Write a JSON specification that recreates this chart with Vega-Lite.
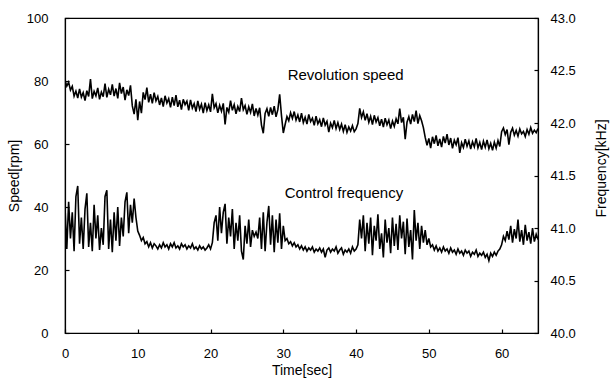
{
"$schema": "https://vega.github.io/schema/vega-lite/v6.json",
"width": 473, "height": 315,
"autosize": {"type": "none"},
"padding": {"left": 65, "top": 18, "right": 75, "bottom": 49},
"background": "white",
"config": {
  "font": "Liberation Sans",
  "view": {"stroke": "black", "strokeWidth": 1.2},
  "axis": {"grid": false, "domainColor": "black", "domainWidth": 1.2, "tickColor": "black", "tickSize": -4, "tickWidth": 1.2,
           "labelFont": "Liberation Sans", "labelFontSize": 13, "labelColor": "black", "labelFlush": false,
           "titleFont": "Liberation Sans", "titleFontSize": 14, "titleFontWeight": "normal", "titleColor": "black"}
},
"data": {"values": [
{"t":0,"speed":80.2,"freq":41.20},{"t":0.25,"speed":78.4,"freq":40.80},{"t":0.5,"speed":79.6,"freq":41.25},{"t":0.75,"speed":77.1,"freq":40.90},
{"t":1,"speed":78.3,"freq":41.15},{"t":1.25,"speed":75.2,"freq":40.78},{"t":1.5,"speed":76.8,"freq":41.30},{"t":1.75,"speed":74.6,"freq":41.40},
{"t":2,"speed":77.5,"freq":40.85},{"t":2.25,"speed":74.9,"freq":41.10},{"t":2.5,"speed":76.3,"freq":40.80},{"t":2.75,"speed":73.8,"freq":41.18},
{"t":3,"speed":76.9,"freq":41.33},{"t":3.25,"speed":75.1,"freq":40.82},{"t":3.5,"speed":80.6,"freq":41.05},{"t":3.75,"speed":74.4,"freq":40.78},
{"t":4,"speed":76.7,"freq":41.22},{"t":4.25,"speed":75.3,"freq":40.90},{"t":4.5,"speed":77.8,"freq":41.12},{"t":4.75,"speed":74.2,"freq":40.79},
{"t":5,"speed":76.5,"freq":41.00},{"t":5.25,"speed":75.0,"freq":40.84},{"t":5.5,"speed":79.2,"freq":41.30},{"t":5.75,"speed":74.8,"freq":41.36},
{"t":6,"speed":77.4,"freq":40.80},{"t":6.25,"speed":75.6,"freq":41.08},{"t":6.5,"speed":78.9,"freq":40.77},{"t":6.75,"speed":75.2,"freq":41.15},
{"t":7,"speed":77.6,"freq":40.88},{"t":7.25,"speed":74.5,"freq":41.20},{"t":7.5,"speed":79.4,"freq":40.83},{"t":7.75,"speed":76.0,"freq":41.10},
{"t":8,"speed":78.1,"freq":40.92},{"t":8.25,"speed":73.9,"freq":41.25},{"t":8.5,"speed":77.2,"freq":41.34},{"t":8.75,"speed":75.4,"freq":40.95},
{"t":9,"speed":78.6,"freq":41.22},{"t":9.25,"speed":72.1,"freq":41.05},{"t":9.5,"speed":69.5,"freq":41.28},{"t":9.75,"speed":74.2,"freq":41.10},
{"t":10,"speed":67.6,"freq":40.97},{"t":10.25,"speed":73.5,"freq":40.93},{"t":10.5,"speed":69.8,"freq":40.88},{"t":10.75,"speed":76.4,"freq":40.91},
{"t":11,"speed":74.1,"freq":40.85},{"t":11.25,"speed":77.9,"freq":40.87},{"t":11.5,"speed":73.2,"freq":40.82},{"t":11.75,"speed":75.8,"freq":40.86},
{"t":12,"speed":72.9,"freq":40.81},{"t":12.25,"speed":76.3,"freq":40.85},{"t":12.5,"speed":73.7,"freq":40.83},{"t":12.75,"speed":75.1,"freq":40.80},
{"t":13,"speed":72.4,"freq":40.84},{"t":13.25,"speed":74.6,"freq":40.81},{"t":13.5,"speed":71.9,"freq":40.86},{"t":13.75,"speed":75.3,"freq":40.82},
{"t":14,"speed":73.0,"freq":40.84},{"t":14.25,"speed":74.4,"freq":40.80},{"t":14.5,"speed":71.6,"freq":40.85},{"t":14.75,"speed":74.9,"freq":40.82},
{"t":15,"speed":72.2,"freq":40.86},{"t":15.25,"speed":75.5,"freq":40.81},{"t":15.5,"speed":71.8,"freq":40.83},{"t":15.75,"speed":73.9,"freq":40.80},
{"t":16,"speed":70.9,"freq":40.85},{"t":16.25,"speed":74.2,"freq":40.82},{"t":16.5,"speed":72.5,"freq":40.84},{"t":16.75,"speed":73.6,"freq":40.80},
{"t":17,"speed":70.7,"freq":40.83},{"t":17.25,"speed":74.0,"freq":40.81},{"t":17.5,"speed":71.4,"freq":40.85},{"t":17.75,"speed":72.8,"freq":40.80},
{"t":18,"speed":70.3,"freq":40.82},{"t":18.25,"speed":73.7,"freq":40.79},{"t":18.5,"speed":71.0,"freq":40.83},{"t":18.75,"speed":72.6,"freq":40.80},
{"t":19,"speed":69.8,"freq":40.82},{"t":19.25,"speed":73.1,"freq":40.79},{"t":19.5,"speed":70.6,"freq":40.81},{"t":19.75,"speed":72.4,"freq":40.84},
{"t":20,"speed":70.2,"freq":40.80},{"t":20.25,"speed":75.9,"freq":40.86},{"t":20.5,"speed":71.5,"freq":41.05},{"t":20.75,"speed":72.8,"freq":41.12},
{"t":21,"speed":69.9,"freq":40.88},{"t":21.25,"speed":72.3,"freq":41.20},{"t":21.5,"speed":70.4,"freq":40.95},{"t":21.75,"speed":72.9,"freq":41.15},
{"t":22,"speed":66.2,"freq":41.23},{"t":22.25,"speed":71.6,"freq":40.85},{"t":22.5,"speed":70.1,"freq":41.10},{"t":22.75,"speed":73.8,"freq":40.92},
{"t":23,"speed":70.7,"freq":41.18},{"t":23.25,"speed":72.5,"freq":40.80},{"t":23.5,"speed":69.6,"freq":41.05},{"t":23.75,"speed":71.9,"freq":40.88},
{"t":24,"speed":70.3,"freq":41.12},{"t":24.25,"speed":74.6,"freq":40.78},{"t":24.5,"speed":70.9,"freq":40.70},{"t":24.75,"speed":72.2,"freq":41.02},
{"t":25,"speed":69.4,"freq":40.85},{"t":25.25,"speed":71.8,"freq":41.08},{"t":25.5,"speed":70.0,"freq":40.82},{"t":25.75,"speed":72.7,"freq":40.98},
{"t":26,"speed":68.9,"freq":40.92},{"t":26.25,"speed":71.3,"freq":40.96},{"t":26.5,"speed":69.2,"freq":40.90},{"t":26.75,"speed":71.5,"freq":41.10},
{"t":27,"speed":66.0,"freq":40.80},{"t":27.25,"speed":63.4,"freq":41.15},{"t":27.5,"speed":69.7,"freq":40.78},{"t":27.75,"speed":71.2,"freq":41.05},
{"t":28,"speed":68.8,"freq":41.21},{"t":28.25,"speed":71.6,"freq":40.84},{"t":28.5,"speed":69.3,"freq":41.12},{"t":28.75,"speed":72.0,"freq":40.77},
{"t":29,"speed":68.6,"freq":41.08},{"t":29.25,"speed":70.9,"freq":40.86},{"t":29.5,"speed":75.8,"freq":41.14},{"t":29.75,"speed":69.0,"freq":40.80},
{"t":30,"speed":63.5,"freq":41.02},{"t":30.25,"speed":66.2,"freq":40.88},{"t":30.5,"speed":68.7,"freq":40.90},{"t":30.75,"speed":67.4,"freq":40.85},
{"t":31,"speed":69.9,"freq":40.87},{"t":31.25,"speed":68.1,"freq":40.83},{"t":31.5,"speed":70.3,"freq":40.86},{"t":31.75,"speed":67.6,"freq":40.82},
{"t":32,"speed":69.2,"freq":40.84},{"t":32.25,"speed":67.0,"freq":40.80},{"t":32.5,"speed":69.8,"freq":40.83},{"t":32.75,"speed":66.8,"freq":40.79},
{"t":33,"speed":68.5,"freq":40.82},{"t":33.25,"speed":66.3,"freq":40.78},{"t":33.5,"speed":69.4,"freq":40.81},{"t":33.75,"speed":67.1,"freq":40.79},
{"t":34,"speed":68.2,"freq":40.82},{"t":34.25,"speed":65.9,"freq":40.77},{"t":34.5,"speed":68.8,"freq":40.80},{"t":34.75,"speed":66.4,"freq":40.78},
{"t":35,"speed":67.7,"freq":40.81},{"t":35.25,"speed":65.5,"freq":40.77},{"t":35.5,"speed":68.3,"freq":40.80},{"t":35.75,"speed":66.0,"freq":40.72},
{"t":36,"speed":67.2,"freq":40.79},{"t":36.25,"speed":63.8,"freq":40.81},{"t":36.5,"speed":66.6,"freq":40.77},{"t":36.75,"speed":65.2,"freq":40.80},
{"t":37,"speed":67.5,"freq":40.78},{"t":37.25,"speed":64.9,"freq":40.82},{"t":37.5,"speed":66.8,"freq":40.76},{"t":37.75,"speed":64.6,"freq":40.79},
{"t":38,"speed":66.3,"freq":40.81},{"t":38.25,"speed":64.0,"freq":40.75},{"t":38.5,"speed":66.1,"freq":40.79},{"t":38.75,"speed":63.7,"freq":40.77},
{"t":39,"speed":65.4,"freq":40.80},{"t":39.25,"speed":64.1,"freq":40.76},{"t":39.5,"speed":65.8,"freq":40.82},{"t":39.75,"speed":63.9,"freq":40.78},
{"t":40,"speed":64.8,"freq":40.80},{"t":40.25,"speed":66.5,"freq":40.84},{"t":40.5,"speed":71.3,"freq":41.08},{"t":40.75,"speed":68.4,"freq":40.90},
{"t":41,"speed":70.2,"freq":41.12},{"t":41.25,"speed":67.5,"freq":40.78},{"t":41.5,"speed":69.6,"freq":41.05},{"t":41.75,"speed":66.9,"freq":40.85},
{"t":42,"speed":68.8,"freq":41.10},{"t":42.25,"speed":66.2,"freq":40.74},{"t":42.5,"speed":69.1,"freq":41.02},{"t":42.75,"speed":67.0,"freq":40.88},
{"t":43,"speed":68.4,"freq":41.13},{"t":43.25,"speed":65.8,"freq":40.80},{"t":43.5,"speed":67.9,"freq":40.95},{"t":43.75,"speed":65.4,"freq":40.72},
{"t":44,"speed":68.2,"freq":41.08},{"t":44.25,"speed":66.1,"freq":40.86},{"t":44.5,"speed":67.6,"freq":41.00},{"t":44.75,"speed":64.9,"freq":40.76},
{"t":45,"speed":67.3,"freq":41.10},{"t":45.25,"speed":65.6,"freq":40.83},{"t":45.5,"speed":68.0,"freq":41.04},{"t":45.75,"speed":66.4,"freq":40.79},
{"t":46,"speed":71.2,"freq":41.12},{"t":46.25,"speed":66.8,"freq":40.90},{"t":46.5,"speed":68.5,"freq":41.06},{"t":46.75,"speed":61.5,"freq":40.75},
{"t":47,"speed":66.9,"freq":41.09},{"t":47.25,"speed":68.7,"freq":40.82},{"t":47.5,"speed":66.3,"freq":40.98},{"t":47.75,"speed":69.4,"freq":40.70},
{"t":48,"speed":67.1,"freq":41.17},{"t":48.25,"speed":70.6,"freq":40.88},{"t":48.5,"speed":66.5,"freq":41.05},{"t":48.75,"speed":69.0,"freq":40.80},
{"t":49,"speed":67.4,"freq":41.02},{"t":49.25,"speed":65.2,"freq":40.86},{"t":49.5,"speed":62.1,"freq":40.98},{"t":49.75,"speed":59.6,"freq":40.84},
{"t":50,"speed":61.8,"freq":40.90},{"t":50.25,"speed":58.7,"freq":40.82},{"t":50.5,"speed":62.3,"freq":40.84},{"t":50.75,"speed":60.1,"freq":40.79},
{"t":51,"speed":62.7,"freq":40.83},{"t":51.25,"speed":59.4,"freq":40.78},{"t":51.5,"speed":61.6,"freq":40.81},{"t":51.75,"speed":59.0,"freq":40.77},
{"t":52,"speed":62.4,"freq":40.82},{"t":52.25,"speed":60.3,"freq":40.78},{"t":52.5,"speed":63.1,"freq":40.80},{"t":52.75,"speed":59.7,"freq":40.76},
{"t":53,"speed":61.9,"freq":40.81},{"t":53.25,"speed":58.6,"freq":40.77},{"t":53.5,"speed":61.2,"freq":40.79},{"t":53.75,"speed":59.8,"freq":40.75},
{"t":54,"speed":62.0,"freq":40.80},{"t":54.25,"speed":57.2,"freq":40.76},{"t":54.5,"speed":60.4,"freq":40.78},{"t":54.75,"speed":58.9,"freq":40.74},
{"t":55,"speed":61.5,"freq":40.79},{"t":55.25,"speed":59.3,"freq":40.76},{"t":55.5,"speed":61.0,"freq":40.78},{"t":55.75,"speed":58.4,"freq":40.73},
{"t":56,"speed":60.7,"freq":40.77},{"t":56.25,"speed":59.1,"freq":40.75},{"t":56.5,"speed":61.8,"freq":40.79},{"t":56.75,"speed":58.8,"freq":40.73},
{"t":57,"speed":60.5,"freq":40.76},{"t":57.25,"speed":58.2,"freq":40.74},{"t":57.5,"speed":60.9,"freq":40.77},{"t":57.75,"speed":59.0,"freq":40.72},
{"t":58,"speed":61.3,"freq":40.75},{"t":58.25,"speed":58.5,"freq":40.69},{"t":58.5,"speed":60.2,"freq":40.76},{"t":58.75,"speed":58.0,"freq":40.73},
{"t":59,"speed":60.6,"freq":40.77},{"t":59.25,"speed":58.7,"freq":40.74},{"t":59.5,"speed":61.1,"freq":40.78},{"t":59.75,"speed":59.2,"freq":40.80},
{"t":60,"speed":63.9,"freq":40.84},{"t":60.25,"speed":65.1,"freq":40.92},{"t":60.5,"speed":63.0,"freq":40.88},{"t":60.75,"speed":64.6,"freq":40.97},
{"t":61,"speed":59.8,"freq":40.89},{"t":61.25,"speed":63.7,"freq":41.02},{"t":61.5,"speed":65.0,"freq":40.86},{"t":61.75,"speed":62.8,"freq":40.99},
{"t":62,"speed":64.3,"freq":40.90},{"t":62.25,"speed":62.5,"freq":41.08},{"t":62.5,"speed":64.8,"freq":40.87},{"t":62.75,"speed":63.2,"freq":40.98},
{"t":63,"speed":64.0,"freq":40.84},{"t":63.25,"speed":62.4,"freq":41.03},{"t":63.5,"speed":64.6,"freq":40.88},{"t":63.75,"speed":63.1,"freq":40.96},
{"t":64,"speed":65.2,"freq":40.85},{"t":64.25,"speed":63.4,"freq":41.00},{"t":64.5,"speed":64.4,"freq":40.87},{"t":64.75,"speed":63.6,"freq":40.94},
{"t":65,"speed":64.9,"freq":40.89}
]},
"layer": [
  {"mark": {"type": "line", "color": "black", "strokeWidth": 1.6, "clip": true},
   "encoding": {
     "x": {"field": "t", "type": "quantitative", "scale": {"domain": [0, 65], "nice": false},
           "axis": {"title": "Time[sec]", "values": [0, 10, 20, 30, 40, 50, 60], "labelPadding": 18, "titleY": 30, "titleBaseline": "top"}},
     "y": {"field": "speed", "type": "quantitative", "scale": {"domain": [0, 100], "nice": false},
           "axis": {"orient": "left", "title": "Speed[rpm]", "values": [0, 20, 40, 60, 80, 100], "labelPadding": 21, "titleX": -44, "titleAngle": 270, "titleBaseline": "bottom"}}
   }},
  {"mark": {"type": "line", "color": "black", "strokeWidth": 1.6, "clip": true},
   "encoding": {
     "x": {"field": "t", "type": "quantitative", "scale": {"domain": [0, 65], "nice": false}},
     "y": {"field": "freq", "type": "quantitative", "scale": {"domain": [40, 43], "nice": false},
           "axis": {"orient": "right", "title": "Frequency[kHz]", "format": ".1f", "values": [40, 40.5, 41, 41.5, 42, 42.5, 43], "labelPadding": 16, "titleX": 70, "titleY": 150, "titleAngle": 270, "titleBaseline": "bottom"}}
   }},
  {"data": {"values": [
     {"t": 30.6, "level": 81.9, "label": "Revolution speed"},
     {"t": 30.2, "level": 44.4, "label": "Control frequency"}
   ]},
   "mark": {"type": "text", "align": "left", "baseline": "middle", "fontSize": 15, "color": "black", "font": "Liberation Sans"},
   "encoding": {
     "x": {"field": "t", "type": "quantitative", "scale": {"domain": [0, 65], "nice": false}},
     "y": {"field": "level", "type": "quantitative", "scale": {"domain": [0, 100], "nice": false}, "axis": null},
     "text": {"field": "label"}
   }}
],
"resolve": {"scale": {"y": "independent"}}
}
